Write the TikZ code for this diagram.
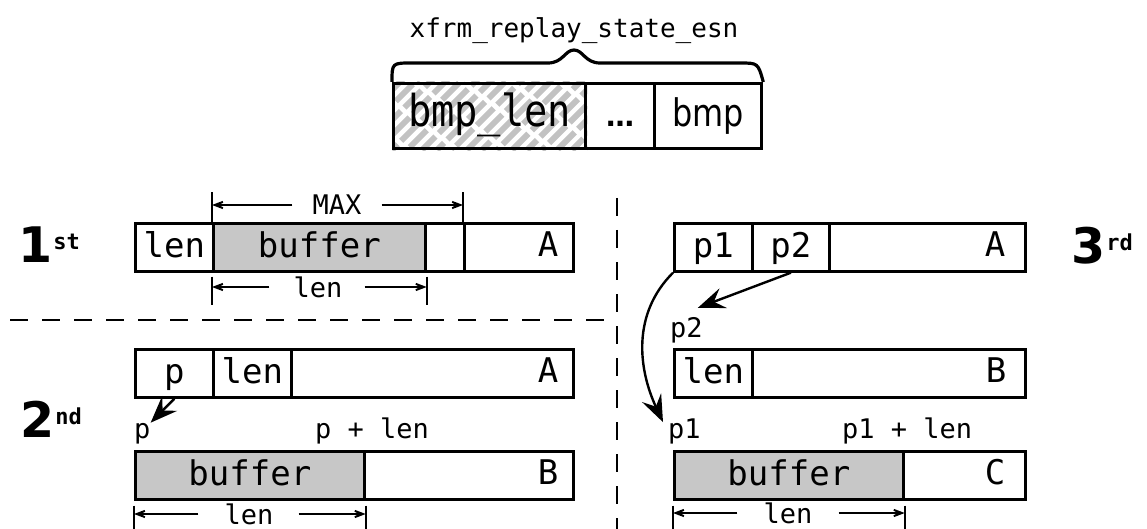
\documentclass[tikz,border=0pt]{standalone}
\usepackage{fontspec}
\usepackage{graphicx}
\usetikzlibrary{arrows.meta,backgrounds}
\newfontfamily\monof{DejaVu Sans Mono}
\newfontfamily\monostruct[FakeStretch=0.88]{DejaVu Sans Mono}
\newfontfamily\sansf{DejaVu Sans}
\newfontfamily\sansstruct[FakeStretch=0.84]{DejaVu Sans}
\newcommand\fs[1]{\fontsize{#1}{#1}\selectfont}
\newcommand\ordmark[2]{{\sansf\bfseries\fs{49}#1}\kern1pt\raisebox{13pt}{\monof\bfseries\fs{22}#2}}

\begin{document}
\begin{tikzpicture}[x=1pt,y=-1pt,
  cell/.style={draw, line width=2.7pt, minimum height=48pt, inner sep=0pt,
    anchor=north west, text height=24pt, text depth=4pt, font=\monof\fs{34}},
  bufcell/.style={cell, fill=black!22},
  scell/.style={draw, line width=3.3pt, minimum height=65pt, inner sep=0pt,
    anchor=north west, text height=29pt, text depth=9pt},
  txt/.style={font=\monof\fs{34}, inner sep=0pt},
  lbl/.style={font=\monof\fs{27}, inner sep=0pt},
  dim/.style={line width=1.9pt, -{Stealth[length=21pt,width=16pt,inset=14pt]}},
  tick/.style={line width=1.9pt},
  ptr/.style={line width=2.4pt, -{Stealth[length=27pt,width=21pt,inset=10pt]}},
  sep/.style={line width=2.4pt, dash pattern=on 18pt off 14pt},
  ord/.style={anchor=base west, inner sep=0pt}]
\useasboundingbox (0,0) rectangle (1147,529);

% ---- structure header ----
\node[lbl, font=\monof\fs{26}, anchor=base] (title) at (574,38) {xfrm\_replay\_state\_esn};
\node[scell, minimum width=192pt, font=\monostruct\fs{44}] (s1) at (392,82) {bmp\_len};
\node[scell, minimum width=69pt, font=\sansf\bfseries\fs{28}] (s2) at (584,82) {…};
\node[scell, minimum width=107pt, font=\sansstruct\fs{38}] (s3) at (653,82) {bmp};
\begin{scope}[on background layer]
  \clip (s1.north west) rectangle (s1.south east);
  \foreach \k [count=\i, evaluate=\i as \ph using {mod(\i*9,29)}] in {-60,-45,...,195}
    \draw[black!24, line width=6pt, dash pattern=on 24pt off 5pt, dash phase=\ph pt]
      (392+\k,150) -- ++(72,-72);
\end{scope}
\draw[line width=3.2pt, line join=round] (s1.north west) .. controls (392,63) .. (412,63)
  -- (548,63) .. controls (563,63) and (565,50) .. (574,50)
  .. controls (583,50) and (585,63) .. (600,63)
  -- (740,63) .. controls (758,63) .. (s3.north east);

% ---- separators ----
\draw[sep] (10,320) -- (607,320);
\draw[sep] (617,198) -- (617,529);

% ---- 1st ----
\node[ord] (o1) at (18,262) {\ordmark{1}{st}};
\node[cell, minimum width=78pt] (a1) at (134,222) {len};
\node[bufcell, minimum width=212pt] (a2) at (212,222) {buffer};
\node[cell, minimum width=39pt] (a3) at (424,222) {};
\node[cell, minimum width=109pt] (a4) at (463,222) {};
\node[txt, anchor=base] (a4t) at (548,256) {A};
\draw[tick] (a2.north west) -- ++(0,-30);
\draw[tick] (a4.north west) -- ++(0,-30);
\node[lbl] (max) at (337,205) {MAX};
\draw[dim] ([xshift=-20pt]max.west) -- (a2.north west |- max);
\draw[dim] ([xshift=20pt]max.east) -- (a4.north west |- max);
\draw[tick] ([yshift=-4pt]a2.south west) -- ++(0,28);
\draw[tick] ([yshift=-4pt]a2.south east) -- ++(0,28);
\node[lbl] (len1) at (318,287) {len};
\draw[dim] ([xshift=-24pt]len1.west) -- (a2.south west |- len1);
\draw[dim] ([xshift=22pt]len1.east) -- (a2.south east |- len1);

% ---- 2nd ----
\node[ord] (o2) at (20,437) {\ordmark{2}{nd}};
\node[cell, minimum width=78pt] (b1) at (134,348) {p};
\node[cell, minimum width=78pt] (b2) at (212,348) {len};
\node[cell, minimum width=282pt] (b3) at (290,348) {};
\node[txt, anchor=base] (b3t) at (548,382) {A};
\node[bufcell, minimum width=229pt] (b4) at (134,450) {buffer};
\node[cell, minimum width=209pt] (b5) at (363,450) {};
\node[txt, anchor=base] (b5t) at (548,484) {B};
\node[lbl, anchor=base west] (bp) at (134,438) {p};
\node[lbl, anchor=base west] (bpl) at (315,438) {p + len};
\draw[ptr] (b1.south) -- (bp.north east);
\draw[tick] ([yshift=-5pt]b4.south west) -- ++(0,26);
\draw[tick] ([yshift=-5pt]b4.south east) -- ++(0,26);
\node[lbl] (len2) at (249,514) {len};
\draw[dim] ([xshift=-26pt]len2.west) -- (b4.south west |- len2);
\draw[dim] ([xshift=25pt]len2.east) -- (b4.south east |- len2);

% ---- 3rd ----
\node[ord] (o3) at (1071,263) {\ordmark{3}{rd}};
\node[cell, minimum width=78pt] (c1) at (673,222) {p1};
\node[cell, minimum width=77pt] (c2) at (751,222) {p2};
\node[cell, minimum width=196pt] (c3) at (828,222) {};
\node[txt, anchor=base] (c3t) at (995,256) {A};
\node[cell, minimum width=78pt] (c4) at (673,348) {len};
\node[cell, minimum width=273pt] (c5) at (751,348) {};
\node[txt, anchor=base] (c5t) at (996,382) {B};
\node[bufcell, minimum width=229pt] (c6) at (673,450) {buffer};
\node[cell, minimum width=122pt] (c7) at (902,450) {};
\node[txt, anchor=base] (c7t) at (995,484) {C};
\node[lbl, anchor=base west] (lp2) at (670,337) {p2};
\node[lbl, anchor=base west] (lp1) at (668,438) {p1};
\node[lbl, anchor=base west] (lp1l) at (842,438) {p1 + len};
\draw[ptr] (c2.south) -- ([xshift=-5pt,yshift=9pt]lp2.north east);
\draw[ptr] (c1.south west) to[out=225,in=115] ([xshift=-5pt,yshift=-4pt]lp1.north west);
\draw[tick] ([yshift=-5pt]c6.south west) -- ++(0,26);
\draw[tick] ([yshift=-5pt]c6.south east) -- ++(0,26);
\node[lbl] (len3) at (788,513) {len};
\draw[dim] ([xshift=-26pt]len3.west) -- (c6.south west |- len3);
\draw[dim] ([xshift=26pt]len3.east) -- (c6.south east |- len3);
\end{tikzpicture}
\end{document}
